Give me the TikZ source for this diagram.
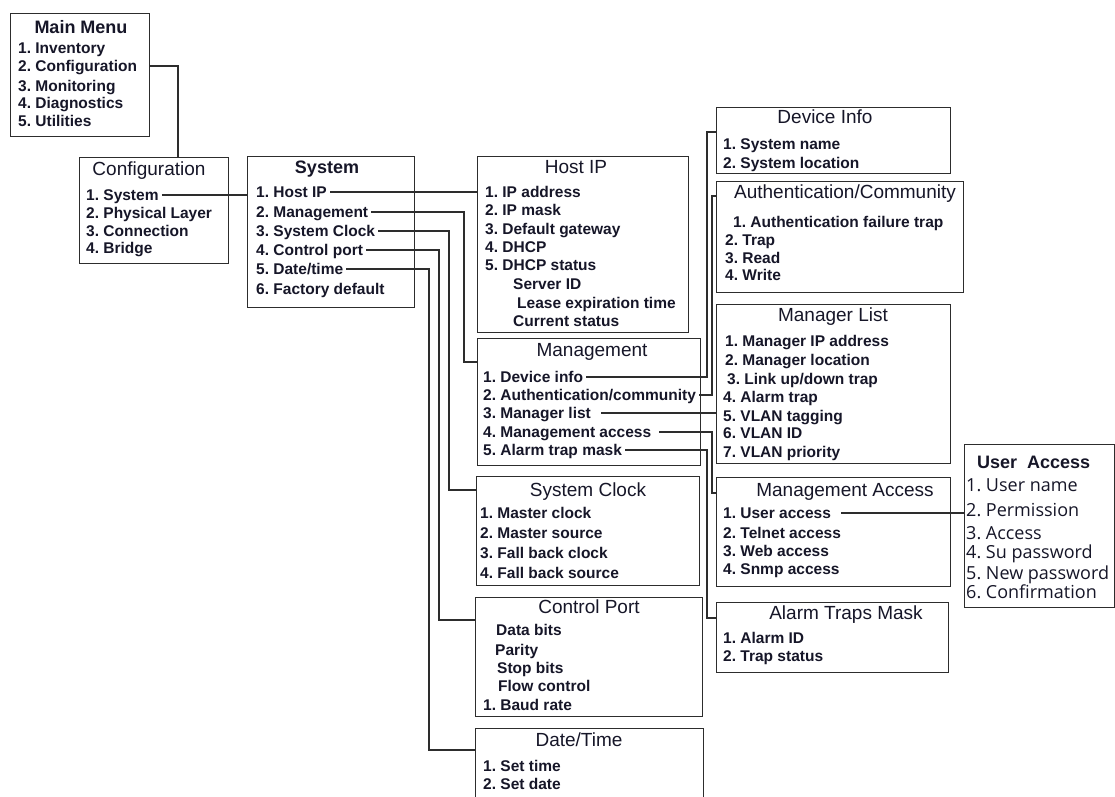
\documentclass[tikz,border=0pt]{standalone}
\usepackage{fontspec}
\setmainfont{Liberation Sans}
\newfontfamily\uafont{Open Sans}
\usetikzlibrary{calc}
\definecolor{ink}{RGB}{22,22,40}
\definecolor{edge}{RGB}{45,45,45}
\frenchspacing

\begin{document}
\begin{tikzpicture}[x=1pt,y=-1pt,
  menubox/.style={draw=edge,line width=1.3pt,anchor=north west,inner sep=0pt},
  head/.style={font=\fontsize{19}{19}\selectfont,text=ink,inner sep=0pt,text height=13.6pt,text depth=0pt},
  bhead/.style={head,font=\fontsize{18}{18}\selectfont\bfseries,text height=12.9pt},
  item/.style={font=\fontsize{15.5}{15.5}\selectfont\bfseries,text=ink,anchor=west,inner sep=0pt,text height=11.1pt,text depth=0pt},
  uitem/.style={item,font=\fontsize{18}{18}\selectfont\uafont,text height=12.8pt},
  wire/.style={draw=edge,line width=1.3pt,shorten <=3pt}]
  \useasboundingbox (0,0) rectangle (1115,796);
  \fill[white] (0,0) rectangle (1115,796);

  % boxes
  \node[menubox,minimum width=139pt,minimum height=123pt] (mainmenu) at (10,13) {};
  \node[menubox,minimum width=149pt,minimum height=106pt] (config) at (79,157) {};
  \node[menubox,minimum width=167pt,minimum height=151pt] (system) at (247,156) {};
  \node[menubox,minimum width=211pt,minimum height=176pt] (hostip) at (477,156) {};
  \node[menubox,minimum width=223pt,minimum height=127pt] (mgmt) at (477,338) {};
  \node[menubox,minimum width=223pt,minimum height=109pt] (sysclk) at (476,476) {};
  \node[menubox,minimum width=227pt,minimum height=119pt] (ctrlport) at (475,597) {};
  \node[menubox,minimum width=228pt,minimum height=82pt] (datetime) at (475,728) {};
  \node[menubox,minimum width=234pt,minimum height=66pt] (devinfo) at (716,107) {};
  \node[menubox,minimum width=247pt,minimum height=111pt] (auth) at (716,181) {};
  \node[menubox,minimum width=234pt,minimum height=159pt] (mgrlist) at (716,304) {};
  \node[menubox,minimum width=234pt,minimum height=109pt] (mgmtacc) at (716,477) {};
  \node[menubox,minimum width=232pt,minimum height=70pt] (alarm) at (716,602) {};
  \node[menubox,minimum width=150pt,minimum height=163pt] (useracc) at (964,444) {};

  % titles
  \node[bhead] (mainmenu-h) at (81,27) {Main Menu};
  \node[head] (config-h) at (149,169) {Configuration};
  \node[bhead] (system-h) at (327,167) {System};
  \node[head] (hostip-h) at (576,167) {Host IP};
  \node[head] (mgmt-h) at (592,350) {Management};
  \node[head] (sysclk-h) at (588,490) {System Clock};
  \node[head] (ctrlport-h) at (589,607) {Control Port};
  \node[head] (datetime-h) at (579,740) {Date/Time};
  \node[head] (devinfo-h) at (825,117) {Device Info};
  \node[head] (auth-h) at (845,192) {Authentication/Community};
  \node[head] (mgrlist-h) at (833,315) {Manager List};
  \node[head] (mgmtacc-h) at (845,490) {Management Access};
  \node[head] (alarm-h) at (846,613) {Alarm Traps Mask};
  \node[bhead,anchor=west] (useracc-h) at (977,462) {User\ \ Access};

  % menu entries
  \foreach \t/\y [count=\i] in {1. Inventory/48,2. Configuration/66,3. Monitoring/86,4. Diagnostics/103,5. Utilities/121}
    \node[item] (mm-\i) at (18,\y) {\t};
  \foreach \t/\y [count=\i] in {1. System/195,2. Physical Layer/213,3. Connection/231,4. Bridge/248}
    \node[item] (cf-\i) at (86,\y) {\t};
  \foreach \t/\y [count=\i] in {1. Host IP/192,2. Management/212,3. System Clock/231,4. Control port/250,{5. Date/time}/269,6. Factory default/289}
    \node[item] (sy-\i) at (256,\y) {\t};
  \foreach \x/\t/\y [count=\i] in {485/1. IP address/192,485/2. IP mask/210,485/3. Default gateway/229,485/4. DHCP/247,485/5. DHCP status/265,513/Server ID/284,517/Lease expiration time/303,513/Current status/321}
    \node[item] (hi-\i) at (\x,\y) {\t};
  \foreach \t/\y [count=\i] in {1. Device info/377,{2. Authentication/community}/395,3. Manager list/413,4. Management access/432,5. Alarm trap mask/450}
    \node[item] (mg-\i) at (483,\y) {\t};
  \foreach \t/\y [count=\i] in {1. Master clock/513,2. Master source/533,3. Fall back clock/553,4. Fall back source/573}
    \node[item] (sc-\i) at (480,\y) {\t};
  \foreach \x/\t/\y [count=\i] in {496/Data bits/630,495/Parity/650,497/Stop bits/668,498/Flow control/686,483/1. Baud rate/705}
    \node[item] (cp-\i) at (\x,\y) {\t};
  \foreach \t/\y [count=\i] in {1. Set time/766,2. Set date/784}
    \node[item] (dt-\i) at (483,\y) {\t};
  \foreach \t/\y [count=\i] in {1. System name/144,2. System location/163}
    \node[item] (di-\i) at (723,\y) {\t};
  \foreach \x/\t/\y [count=\i] in {733/1. Authentication failure trap/222,725/2. Trap/240,725/3. Read/258,725/4. Write/275}
    \node[item] (au-\i) at (\x,\y) {\t};
  \foreach \x/\t/\y [count=\i] in {725/1. Manager IP address/341,725/2. Manager location/360,727/{3. Link up/down trap}/379,723/4. Alarm trap/397,723/5. VLAN tagging/416,723/6. VLAN ID/433,723/7. VLAN priority/452}
    \node[item] (ml-\i) at (\x,\y) {\t};
  \foreach \t/\y [count=\i] in {1. User access/513,2. Telnet access/533,3. Web access/551,4. Snmp access/569}
    \node[item] (ma-\i) at (723,\y) {\t};
  \foreach \t/\y [count=\i] in {1. Alarm ID/638,2. Trap status/656}
    \node[item] (at-\i) at (723,\y) {\t};
  \foreach \t/\y [count=\i] in {1. User name/485,2. Permission/510,3. Access/533,4. Su password/552,5. New password/573,6. Confirmation/592}
    \node[uitem] (ua-\i) at (966,\y) {\t};

  % bends of the links
  \coordinate (k0) at (178,0);
  \coordinate (k2) at (464,362);
  \coordinate (k3) at (449,490);
  \coordinate (k4) at (439,620);
  \coordinate (k5) at (429,750);
  \coordinate (k6) at (707,132);
  \coordinate (k7) at (712,196);
  \coordinate (k8) at (712,493);
  \coordinate (k9) at (707,618);

  % links
  \draw[wire,shorten <=0pt] (mainmenu.east |- mm-2) -| (k0 |- config.north);
  \draw[wire] (cf-1.east) -- (cf-1.east -| system.west);
  \draw[wire] (sy-1.east) -- (sy-1.east -| hostip.west);
  \draw[wire] (sy-2.east) -| (k2) -- (k2 -| mgmt.west);
  \draw[wire] (sy-3.east) -| (k3) -- (k3 -| sysclk.west);
  \draw[wire] (sy-4.east) -| (k4) -- (k4 -| ctrlport.west);
  \draw[wire] (sy-5.east) -| (k5) -- (k5 -| datetime.west);
  \draw[wire] (mg-1.east) -| (k6) -- (k6 -| devinfo.west);
  \draw[wire] (mg-2.east) -| (k7) -- (k7 -| auth.west);
  \draw[wire,shorten <=10pt] (mg-3.east) -- (mg-3.east -| mgrlist.west);
  \draw[wire,shorten <=8pt] (mg-4.east) -| (k8) -- (k8 -| mgmtacc.west);
  \draw[wire] (mg-5.east) -| (k9) -- (k9 -| alarm.west);
  \draw[wire,shorten <=10pt] (ma-1.east) -- (ma-1.east -| useracc.west);
\end{tikzpicture}
\end{document}
